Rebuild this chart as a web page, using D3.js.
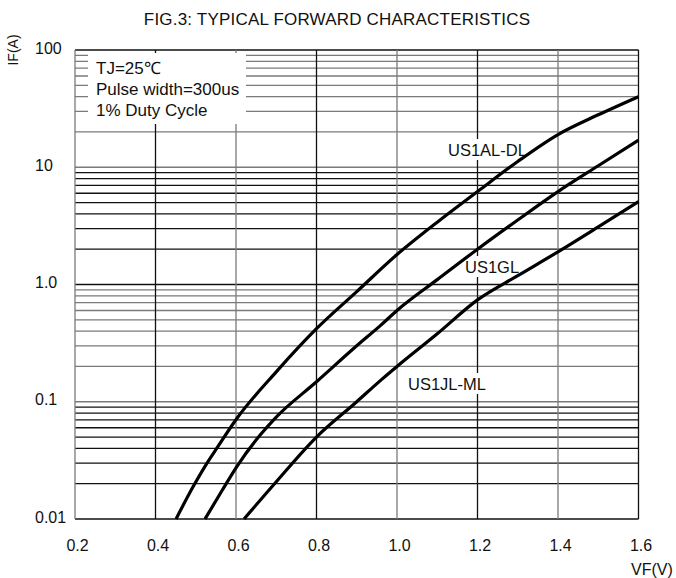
<!DOCTYPE html>
<html>
<head>
<meta charset="utf-8">
<title>Typical forward characteristics</title>
<script src="https://d3js.org/d3.v7.min.js"></script>
<style>
  body { margin: 0; background: #fff; }
  svg text { font-family: "Liberation Sans", Arial, sans-serif; font-size: 16px; fill: #111; }
</style>
</head>
<body>
<div id="chart"></div>
<script>
  // x axis ticks (volts) and y decades (amps)
  const vfTicks = [0.2, 0.4, 0.6, 0.8, 1.0, 1.2, 1.4, 1.6];
  const ifDecades = [0.01, 0.1, 1, 10, 100];
  const ifLabels = ["0.01", "0.1", "1.0", "10", "100"];

  // curves
  const vfAL = [0.451, 0.494, 0.528, 0.552, 0.602, 0.70, 0.80, 0.90, 1.0, 1.1, 1.2, 1.3, 1.4, 1.5, 1.6];
  const ifAL = [0.01, 0.019, 0.03, 0.04, 0.072, 0.18, 0.42, 0.87, 1.8, 3.4, 6.2, 11.2, 19, 28, 40];

  const vfGL = [0.523, 0.565, 0.602, 0.66, 0.70, 0.80, 0.90, 0.96, 1.0, 1.1, 1.2, 1.3, 1.4, 1.5, 1.6];
  const ifGL = [0.01, 0.0174, 0.028, 0.052, 0.074, 0.148, 0.3, 0.45, 0.6, 1.1, 2.0, 3.55, 6.2, 10.3, 17];

  const vfJL = [0.62, 0.693, 0.80, 0.90, 0.96, 1.0, 1.1, 1.2, 1.3, 1.4, 1.5, 1.6];
  const ifJL = [0.01, 0.0195, 0.05, 0.1, 0.153, 0.2, 0.38, 0.74, 1.19, 1.9, 3.1, 5.1];

  const seriesNames = ["US1AL-DL", "US1GL", "US1JL-ML"];
  const legendLines = ["TJ=25\u2103", "Pulse width=300us", "1% Duty Cycle"];

  const W = 676, H = 578;
  const plotL = 75, plotR = 638.5, plotT = 50, plotB = 519;

  const x = d3.scaleLinear().domain([0.2, 1.6]).range([plotL, plotR]);
  const y = d3.scaleLog().domain([0.01, 100]).range([plotB, plotT]);

  const svg = d3.select("#chart").append("svg")
    .attr("width", W)
    .attr("height", H);

  // horizontal grid: 1..9 in every decade, odd decades grey
  let hLines = [];
  for (let d = -2; d < 2; d++) {
    for (let m = 1; m <= 9; m++) hLines.push({ v: m * Math.pow(10, d), d: d });
  }
  hLines.push({ v: 100, d: 2 });

  svg.append("g").selectAll("line")
    .data(hLines)
    .join("line")
    .attr("x1", plotL).attr("x2", plotR)
    .attr("y1", d => y(d.v)).attr("y2", d => y(d.v))
    .attr("stroke", d => (Math.abs(d.d) % 2 === 1) ? "#7a7a7a" : "#111")
    .attr("stroke-width", 1.3);

  // vertical grid
  svg.append("g").selectAll("line")
    .data(vfTicks)
    .join("line")
    .attr("x1", d => x(d)).attr("x2", d => x(d))
    .attr("y1", plotT).attr("y2", plotB)
    .attr("stroke", (d, i) => i % 2 === 0 ? "#7a7a7a" : "#111")
    .attr("stroke-width", 1.3);

  // conditions box
  svg.append("rect")
    .attr("x", 88).attr("y", 53)
    .attr("width", 158).attr("height", 71)
    .attr("fill", "#fff");

  svg.append("g").selectAll("text")
    .data(legendLines)
    .join("text")
    .attr("x", 96)
    .attr("y", (d, i) => 74 + i * 21)
    .style("font-size", "17px")
    .text(d => d);

  // axes (labels only)
  const yAxis = d3.axisLeft(y)
    .tickValues(ifDecades)
    .tickFormat((d, i) => ifLabels[i])
    .tickSize(0);
  const gy = svg.append("g").call(yAxis);
  gy.select(".domain").remove();
  gy.selectAll("text")
    .attr("x", 35).attr("dy", null).attr("y", 3)
    .attr("text-anchor", "start");
  gy.attr("font-family", null).attr("font-size", null);

  const xAxis = d3.axisBottom(x)
    .tickValues(vfTicks)
    .tickFormat(d3.format(".1f"))
    .tickSize(0);
  const gx = svg.append("g").attr("transform", `translate(2,${plotB})`).call(xAxis);
  gx.select(".domain").remove();
  gx.selectAll("text")
    .attr("y", 32).attr("dy", null);
  gx.attr("font-family", null).attr("font-size", null);

  // titles
  svg.append("text")
    .attr("x", 337).attr("y", 25)
    .attr("text-anchor", "middle")
    .style("font-size", "17px")
    .style("letter-spacing", "0.2px")
    .text("FIG.3: TYPICAL FORWARD CHARACTERISTICS");

  svg.append("text")
    .attr("transform", "translate(18,50) rotate(-90)")
    .attr("text-anchor", "middle")
    .style("font-size", "14px")
    .text("IF(A)");

  svg.append("text")
    .attr("x", 631).attr("y", 575)
    .text("VF(V)");

  // curve labels with white backing
  const labelPos = [[448, 156], [465, 273], [408, 390]];
  labelPos.forEach((p, i) => {
    const t = svg.append("text")
      .attr("x", p[0]).attr("y", p[1])
      .style("font-size", "16.5px")
      .text(seriesNames[i]);
    const b = t.node().getBBox();
    svg.insert("rect", () => t.node())
      .attr("x", b.x - 1).attr("y", b.y - 2)
      .attr("width", b.width + 2).attr("height", b.height + 3)
      .attr("fill", "#fff");
  });

  // curves
  const line = d3.line()
    .x(d => x(d[0]))
    .y(d => y(d[1]))
    .curve(d3.curveMonotoneX);

  [[vfAL, ifAL], [vfGL, ifGL], [vfJL, ifJL]].forEach(s => {
    svg.append("path")
      .datum(d3.zip(s[0], s[1]))
      .attr("d", line)
      .attr("fill", "none")
      .attr("stroke", "#000")
      .attr("stroke-width", 3.2);
  });
</script>
</body>
</html>
